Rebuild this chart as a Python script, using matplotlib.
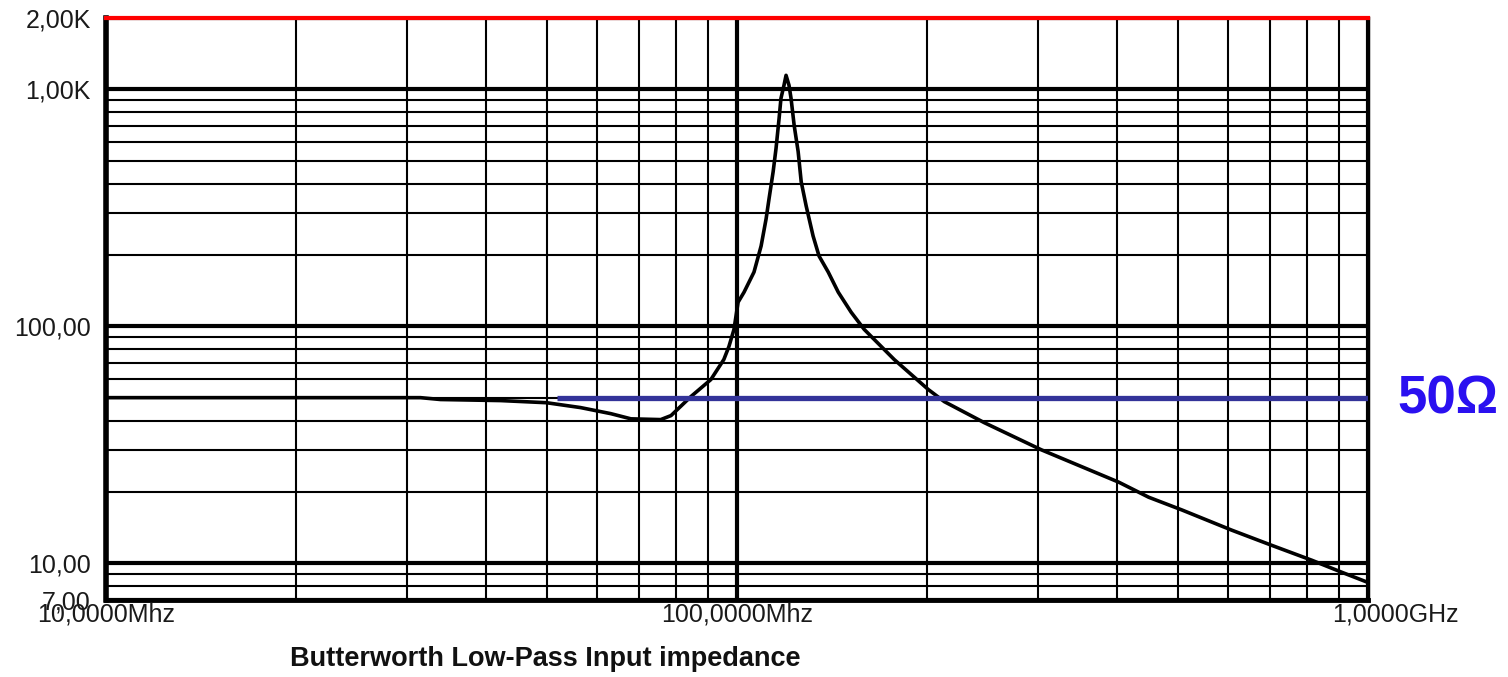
import matplotlib
matplotlib.use("Agg")
import matplotlib.pyplot as plt
import matplotlib.transforms as mtransforms

# Input impedance of the Butterworth low-pass
freq_mhz = [10.0, 14.1, 20.3, 31.5, 33.9, 42.2, 49.9, 56.5, 63.1, 67.9, 75.7, 78.6,
            84.5, 90.9, 95.3, 97.1, 98.9, 100.4, 102.6, 106.4, 109.2, 111.2, 112.4,
            114.1, 115.3, 116.6, 117.4, 118.7, 119.6, 120.9, 121.8, 123.2, 125.0,
            126.4, 128.7, 132.0, 134.9, 139.5, 144.7, 151.7, 159.1, 177.5, 201.0,
            213.1, 246.6, 303.8, 402.6, 449.2, 506.8, 608.1, 704.1, 814.7, 909.3, 1000.0]
z_ohm = [50.0, 50.0, 50.0, 50.0, 49.1, 48.6, 47.6, 45.4, 42.8, 40.7, 40.4, 42.0,
         50.5, 59.6, 72.4, 82.2, 97.0, 126.4, 139.3, 169.4, 218.3, 284.0, 345.2,
         449.3, 562.3, 753.8, 916.2, 1040.0, 1146.0, 1040.0, 916.0, 703.9, 546.0,
         407.4, 322.3, 240.6, 198.0, 169.4, 139.3, 114.6, 97.0, 72.4, 54.1,
         48.1, 39.2, 30.1, 22.0, 19.0, 16.8, 13.8, 11.9, 10.3, 9.16, 8.3]

ref_freq = [51.8, 1000.0]
ref_z = [50.0, 50.0]

x_ticks = [10, 100, 1000]
x_labels = ['10,0000Mhz', '100,0000Mhz', '1,0000GHz']
y_ticks = [7, 10, 100, 1000, 2000]
y_labels = ['7,00', '10,00', '100,00', '1,00K', '2,00K']
x_minor = [20, 30, 40, 50, 60, 70, 80, 90, 200, 300, 400, 500, 600, 700, 800, 900]
y_minor = [8, 9, 20, 30, 40, 50, 60, 70, 80, 90, 200, 300, 400, 500, 600, 700, 800, 900]

plt.rcParams['font.family'] = ['Liberation Sans', 'DejaVu Sans']

fig = plt.figure(figsize=(15.08, 6.77), dpi=100)
ax = fig.add_axes([106/1508, 77/677, 1262/1508, 582/677])

ax.set_xscale('log')
ax.set_yscale('log')
ax.set_xlim(10, 1000)
ax.set_ylim(7, 2000)

ax.set_xticks(x_ticks)
ax.set_xticklabels(x_labels)
ax.set_yticks(y_ticks)
ax.set_yticklabels(y_labels)
ax.set_xticks(x_minor, minor=True)
ax.set_yticks(y_minor, minor=True)
ax.xaxis.set_minor_formatter(matplotlib.ticker.NullFormatter())
ax.yaxis.set_minor_formatter(matplotlib.ticker.NullFormatter())
ax.tick_params(which='both', length=0, labelsize=18, labelcolor='#1a1a1a')
ax.tick_params(axis='x', pad=2)
ax.tick_params(axis='y', pad=11)

ax.grid(True, which='minor', color='black', linewidth=1.5)
ax.grid(True, which='major', color='black', linewidth=3)
ax.set_axisbelow(True)

# shift the last x label to the right like the original
lbl = ax.get_xticklabels()[-1]
lbl.set_transform(lbl.get_transform() + mtransforms.ScaledTranslation(0.27, 0, fig.dpi_scale_trans))

for side, lw in [('left', 4), ('right', 2.5), ('bottom', 3.5)]:
    ax.spines[side].set_linewidth(lw)
    ax.spines[side].set_color('black')
ax.spines['top'].set_color('red')
ax.spines['top'].set_linewidth(3)

ax.plot(freq_mhz, z_ohm, color='black', linewidth=2.6, zorder=3)
ax.plot(ref_freq, ref_z, color='#333399', linewidth=3.8, zorder=4, solid_capstyle='butt')

fig.text(1397/1508, 1 - 400/677, '50Ω', color='#2a10f0', fontsize=38, fontweight='bold',
         ha='left', va='center')
fig.text(545/1508, 1 - 659/677, 'Butterworth Low-Pass Input impedance', fontsize=19.5,
         fontweight='bold', ha='center', va='center', color='#111111')

fig.savefig('out.png', dpi=100)
